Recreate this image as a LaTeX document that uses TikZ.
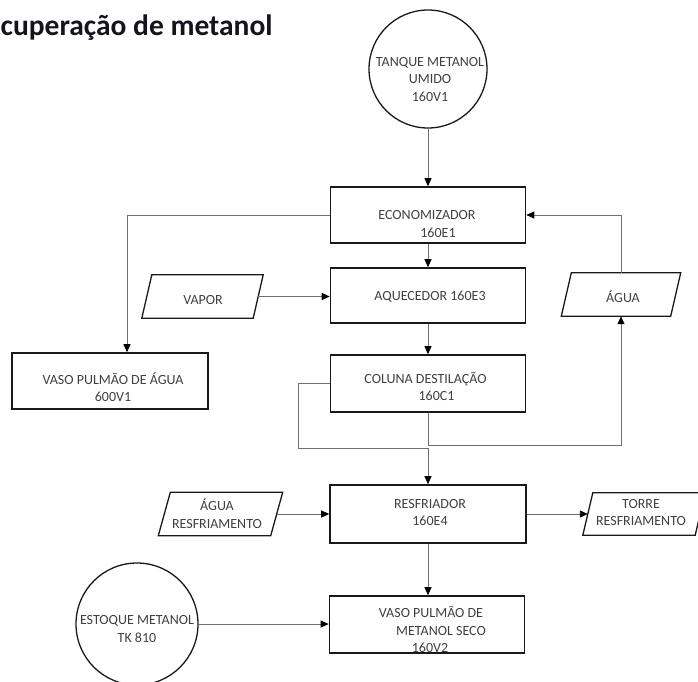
\documentclass[tikz,border=0pt]{standalone}
\usepackage{fontspec}
\setmainfont{Carlito}
\usetikzlibrary{arrows.meta}
\definecolor{txt}{RGB}{64,64,64}
\definecolor{conncol}{RGB}{110,110,110}
\definecolor{titlecol}{RGB}{20,20,30}
\newcommand{\drawslant}[2]{\draw[line width=1.3pt, draw=black!90] ([xshift=#2]#1.north west) -- ([xshift=#2]#1.north east) -- ([xshift=-#2]#1.south east) -- ([xshift=-#2]#1.south west) -- cycle;}
\begin{document}
\begin{tikzpicture}[x=1pt,y=-1pt,
  box/.style={draw=black!90, line width=1.6pt, inner sep=0pt, rectangle},
  tank/.style={draw=black!90, line width=1.3pt, circle, inner sep=0pt, minimum size=#1},
  slantbox/.style={inner sep=0pt, rectangle},
  lbl/.style={text=txt, font=\fontsize{14}{17.5}\selectfont, align=center, inner sep=0pt},
  conn/.style={draw=conncol, line width=0.9pt, -{Triangle[length=8pt,width=7pt,color=black]}}
]
\useasboundingbox (0,0) rectangle (698,681);

% title
\node[anchor=base west, font=\fontsize{29.5}{34}\selectfont\bfseries, text=titlecol, inner sep=0pt] (title) at (0.5,35) {cuperação de metanol};

% shapes
\node[tank=118pt] (tankA) at (428,69) {};
\node[box, minimum width=195pt, minimum height=56pt] (eco) at (428,215) {};
\node[box, minimum width=195pt, minimum height=55pt] (aq) at (428,295.5) {};
\node[box, minimum width=195pt, minimum height=57pt] (col) at (428,383.5) {};
\node[box, minimum width=196pt, minimum height=58pt] (res) at (428,514) {};
\node[box, minimum width=195pt, minimum height=57pt] (vm) at (427,624.5) {};
\node[box, minimum width=196pt, minimum height=56pt] (vagua) at (110,381) {};
\node[tank=122pt] (estq) at (137,624) {};

\node[slantbox, minimum width=111pt, minimum height=43pt] (vapor) at (202.5,296.5) {};
\drawslant{vapor}{5pt}
\node[slantbox, minimum width=109pt, minimum height=43pt] (agua) at (621,294.5) {};
\drawslant{agua}{5pt}
\node[slantbox, minimum width=112pt, minimum height=43pt] (ares) at (220.5,514) {};
\drawslant{ares}{6pt}
\node[slantbox, minimum width=112pt, minimum height=42pt] (torre) at (644,514) {};
\drawslant{torre}{5pt}

% labels
\node[lbl] (tankA-t) at (430,79.5) {TANQUE METANOL\\UMIDO\\160V1};
\node[lbl] (eco-t) at (427,224) {ECONOMIZADOR\\\hspace*{22pt}160E1};
\node[lbl] (aq-t) at (430,297) {AQUECEDOR 160E3};
\node[lbl] (col-t) at (425.5,386.5) {COLUNA DESTILAÇÃO\\\hspace*{22pt}160C1};
\node[lbl] (vagua-t) at (113,387) {VASO PULMÃO DE ÁGUA\\600V1};
\node[lbl] (res-t) at (430,512.5) {RESFRIADOR\\160E4};
\node[lbl] (vm-t) at (431,629.5) {VASO PULMÃO DE\\\hspace*{20pt}METANOL SECO\\\hspace*{-2pt}160V2};
\node[lbl] (estq-t) at (137,629) {ESTOQUE METANOL\\TK 810};
\node[lbl] (vapor-t) at (203,300) {VAPOR};
\node[lbl] (agua-t) at (623,297) {ÁGUA};
\node[lbl] (ares-t) at (217,513.5) {ÁGUA\\RESFRIAMENTO};
\node[lbl] (torre-t) at (641,512.5) {TORRE\\RESFRIAMENTO};

% connectors
\coordinate (loopL) at (298,448);
\coordinate (loopR) at (621,445);
\draw[conn] (tankA.south) -- (eco.north);
\draw[conn] (eco.south) -- (aq.north);
\draw[conn] (eco.west) -| ([xshift=17pt]vagua.north);
\draw[conn] (vapor.east) -- (vapor.east -| aq.west);
\draw[conn] (agua.north) |- (eco.east);
\draw[conn] (aq.south) -- (col.north);
\draw[conn] (col.west) -| (loopL) -| (res.north);
\draw[conn] (col.south) |- (loopR) -- (agua.south);
\draw[conn] (ares.east) -- (res.west);
\draw[conn] (res.east) -- (torre.west);
\draw[conn] (res.south) -- (res.south |- vm.north);
\draw[conn] (estq.east) -- (estq.east -| vm.west);
\end{tikzpicture}
\end{document}
